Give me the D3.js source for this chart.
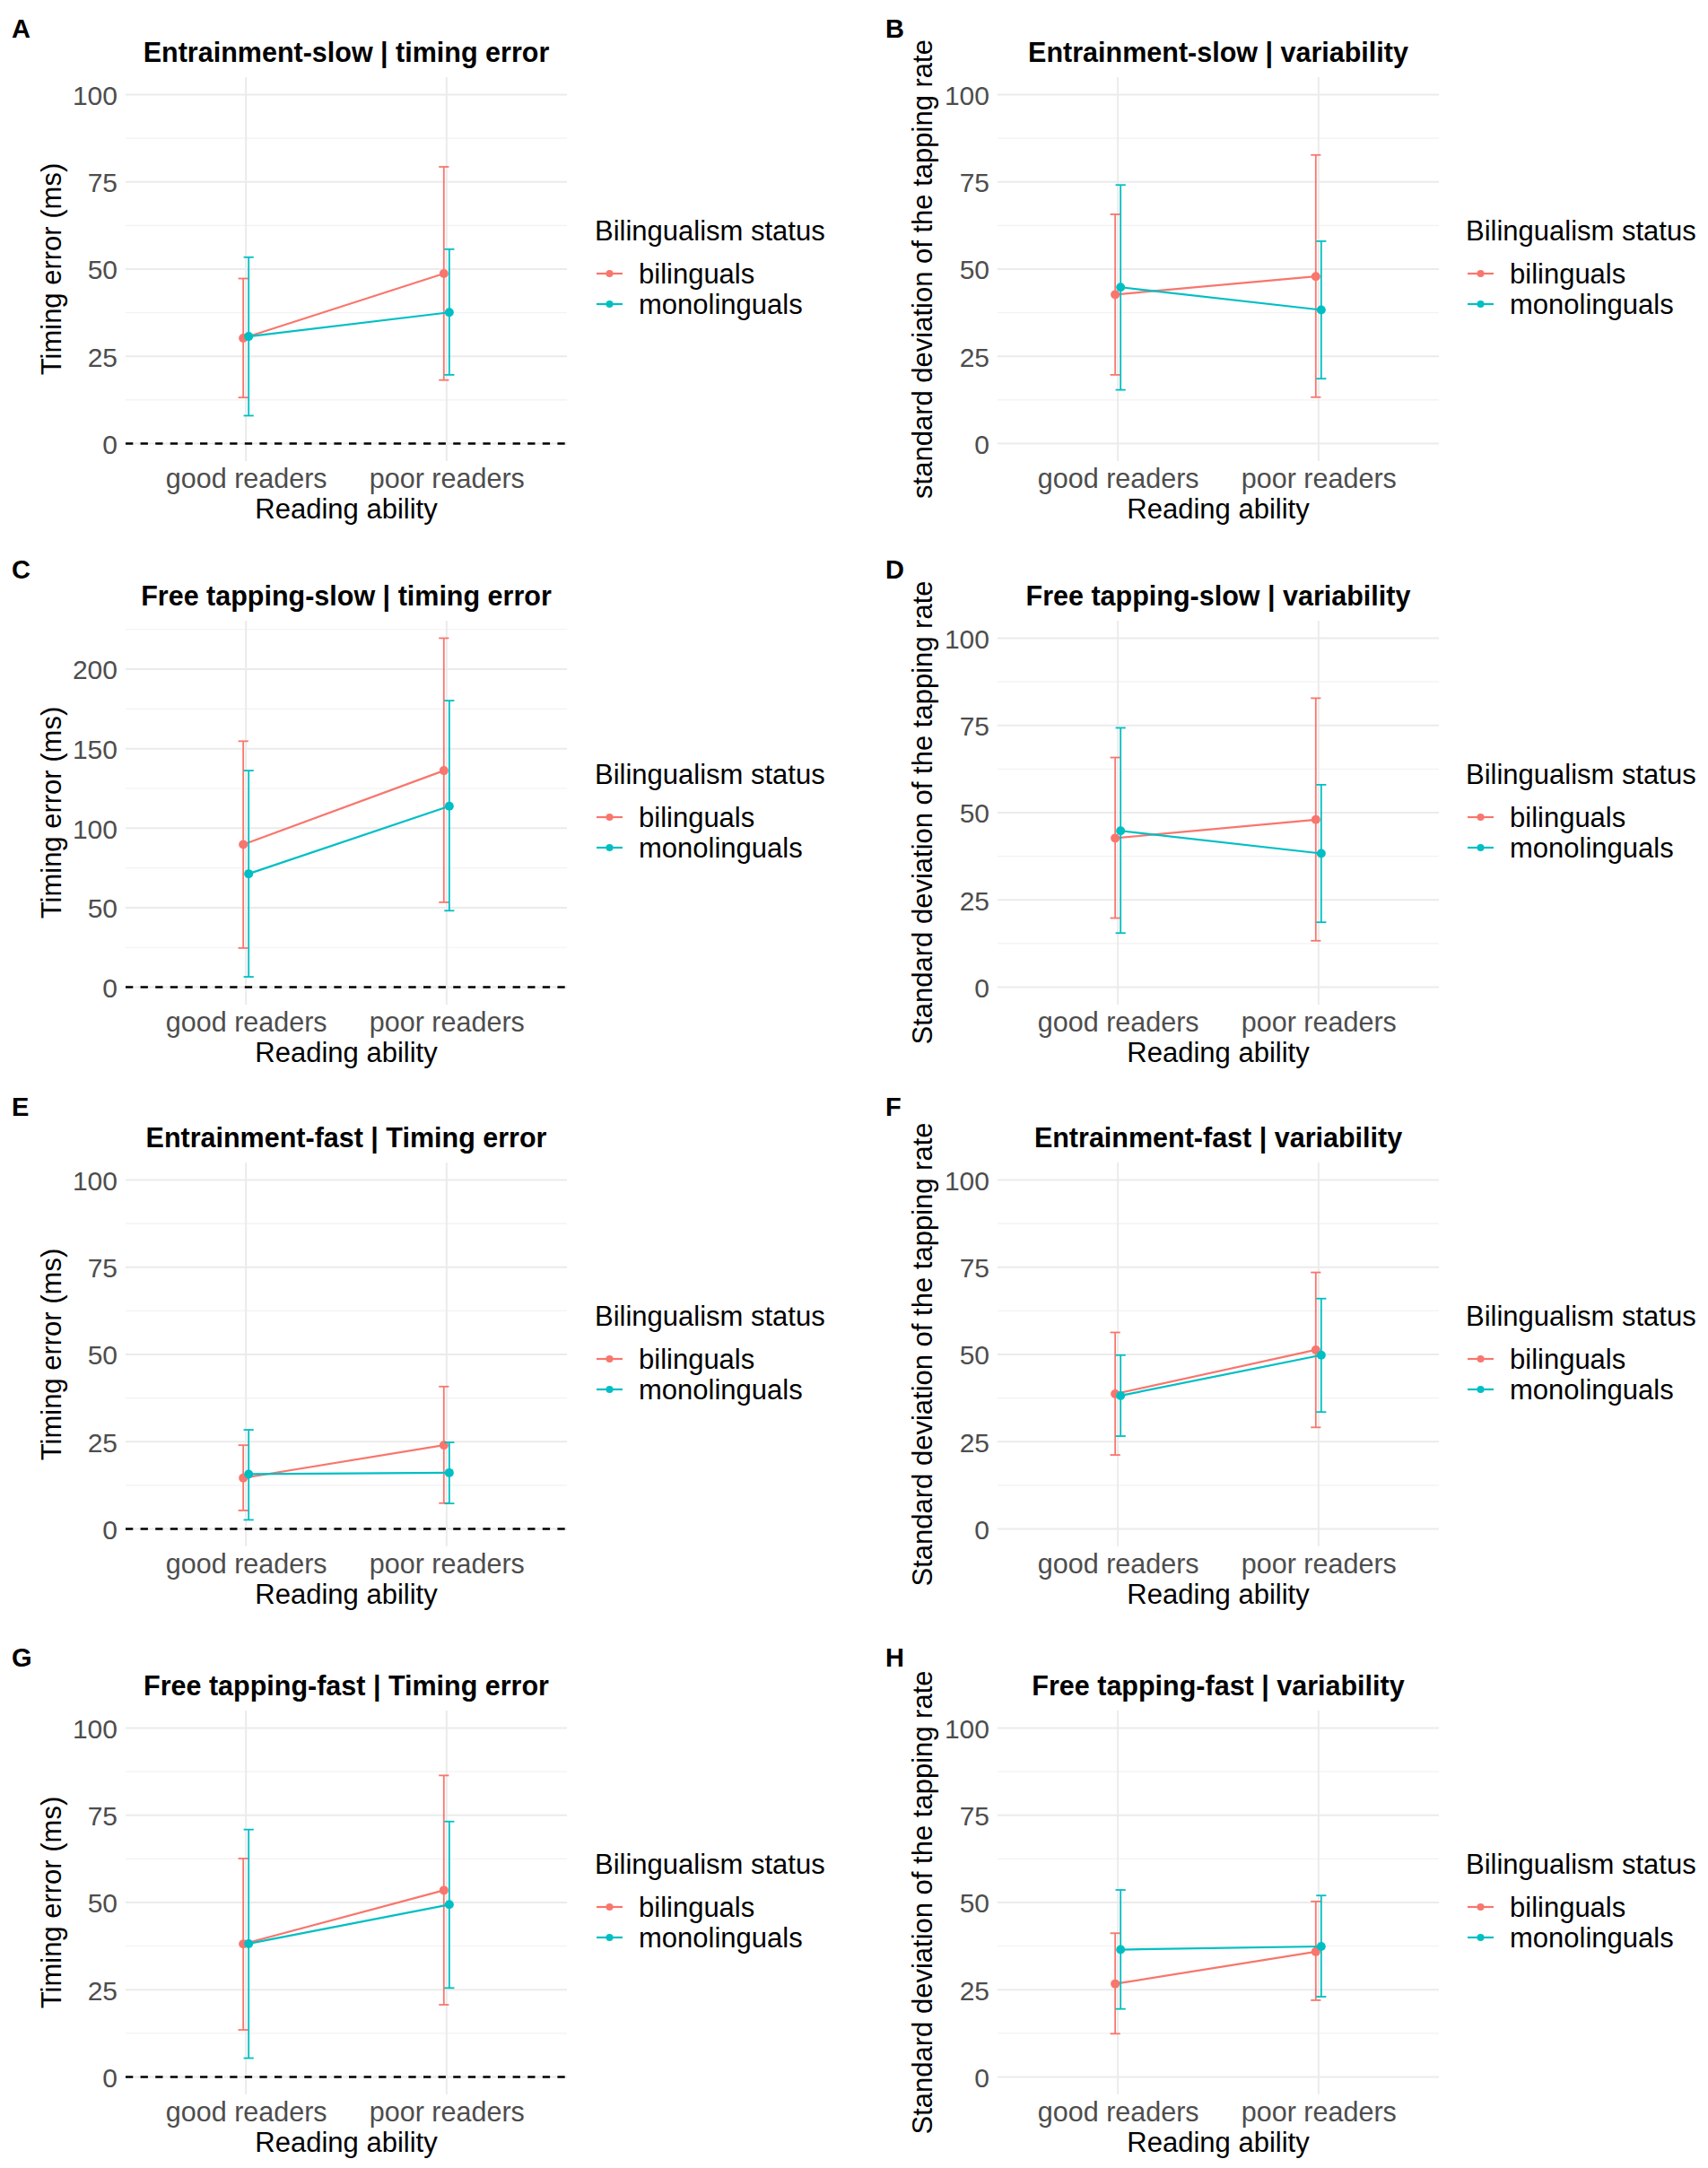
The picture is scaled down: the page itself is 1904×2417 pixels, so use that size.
<!DOCTYPE html>
<html>
<head>
<meta charset="utf-8">
<script src="https://cdn.jsdelivr.net/npm/d3@7"></script>
<style>
  body { margin: 0; background: #fff; }
  svg text { font-family: "Liberation Sans", Arial, sans-serif; }
</style>
</head>
<body>
<div id="chart"></div>
<script>
const readers = ["good readers", "poor readers"];
const groups = ["bilinguals", "monolinguals"];
const groupColors = ["#F8766D", "#00BFC4"];

const panelLetters = ["A", "B", "C", "D", "E", "F", "G", "H"];
const panelTitles = [
  "Entrainment-slow | timing error",
  "Entrainment-slow | variability",
  "Free tapping-slow | timing error",
  "Free tapping-slow | variability",
  "Entrainment-fast | Timing error",
  "Entrainment-fast | variability",
  "Free tapping-fast | Timing error",
  "Free tapping-fast | variability"
];
const yTitles = [
  "Timing error (ms)",
  "standard deviation of the tapping rate",
  "Timing error (ms)",
  "Standard deviation of the tapping rate",
  "Timing error (ms)",
  "Standard deviation of the tapping rate",
  "Timing error (ms)",
  "Standard deviation of the tapping rate"
];

// one row per panel: [good readers, poor readers]
const bilMean = [[30.2, 48.7], [42.7, 47.9], [89.7, 136.2], [42.7, 48.0], [14.6, 24.0], [38.7, 51.3], [38.1, 53.5], [26.7, 35.9]];
const bilLow  = [[13.2, 18.2], [19.7, 13.3], [24.6, 53.4], [19.8, 13.3], [5.3, 7.4], [21.2, 29.1], [13.5, 20.7], [12.4, 22.0]];
const bilHigh = [[47.3, 79.3], [65.7, 82.7], [154.7, 219.5], [65.8, 82.8], [24.0, 40.8], [56.3, 73.5], [62.6, 86.4], [41.2, 50.3]];

const monoMean = [[30.7, 37.6], [44.8, 38.3], [71.3, 113.8], [44.8, 38.3], [15.7, 16.1], [38.2, 49.8], [38.2, 49.4], [36.5, 37.4]];
const monoLow  = [[8.0, 19.7], [15.4, 18.6], [6.5, 48.1], [15.5, 18.6], [2.6, 7.3], [26.6, 33.5], [5.4, 25.5], [19.5, 23.0]];
const monoHigh = [[53.4, 55.7], [74.1, 58.0], [136.2, 180.2], [74.3, 58.0], [28.4, 24.8], [49.8, 66.0], [70.9, 73.2], [53.6, 52.0]];

const ticks100 = [0, 25, 50, 75, 100];
const ticks200 = [0, 50, 100, 150, 200];
const yTicks = [ticks100, ticks100, ticks200, ticks100, ticks100, ticks100, ticks100, ticks100];
const yLimits = [[0, 100], [0, 100], null, [0, 100], [0, 100], [0, 100], [0, 100], [0, 100]];
const zeroLine = [true, false, true, false, true, false, true, false];

// layout
const W = 1904, H = 2417;
const colLeft = [140, 1112];
const rowTop = [86, 692, 1296, 1907];
const labelY = [42, 645, 1244, 1858];
const labelX = [13, 987];
const yTitleX = [57, 1028];
const legendX = [663, 1634];
const panelW = 492, panelH = 428;

const svg = d3.select("#chart")
  .append("svg")
  .attr("width", W)
  .attr("height", H)
  .style("background", "#fff");

panelTitles.forEach((title, i) => {
  const col = i % 2;
  const row = Math.floor(i / 2);
  const left = colLeft[col];
  const top = rowTop[row];
  const bottom = top + panelH;
  const g = svg.append("g");

  const x = d3.scalePoint().domain(readers).range([left, left + panelW]).padding(0.6);

  const series = [
    { name: groups[0], mean: bilMean[i], low: bilLow[i], high: bilHigh[i] },
    { name: groups[1], mean: monoMean[i], low: monoLow[i], high: monoHigh[i] }
  ];

  let lo, hi;
  if (yLimits[i]) {
    [lo, hi] = yLimits[i];
  } else {
    lo = Math.min(0, d3.min(series, (s) => d3.min(s.low)));
    hi = d3.max(series, (s) => d3.max(s.high));
  }
  const pad = (hi - lo) * 0.05;
  const y = d3.scaleLinear().domain([lo - pad, hi + pad]).range([bottom, top]);

  // grid
  const ticks = yTicks[i];
  const step = ticks[1] - ticks[0];
  const minor = d3.range(ticks[0] - step / 2, ticks[ticks.length - 1] + step, step)
    .filter((v) => v > y.domain()[0] && v < y.domain()[1]);

  g.selectAll(".minor")
    .data(minor)
    .enter()
    .append("line")
    .attr("x1", left).attr("x2", left + panelW)
    .attr("y1", (d) => y(d)).attr("y2", (d) => y(d))
    .attr("stroke", "#F2F2F2")
    .attr("stroke-width", 1.1);

  g.selectAll(".major")
    .data(ticks)
    .enter()
    .append("line")
    .attr("x1", left).attr("x2", left + panelW)
    .attr("y1", (d) => y(d)).attr("y2", (d) => y(d))
    .attr("stroke", "#EBEBEB")
    .attr("stroke-width", 2);

  g.selectAll(".vgrid")
    .data(readers)
    .enter()
    .append("line")
    .attr("x1", (d) => x(d)).attr("x2", (d) => x(d))
    .attr("y1", top).attr("y2", bottom)
    .attr("stroke", "#EBEBEB")
    .attr("stroke-width", 2);

  if (zeroLine[i]) {
    g.append("line")
      .attr("x1", left).attr("x2", left + panelW)
      .attr("y1", y(0)).attr("y2", y(0))
      .attr("stroke", "#000")
      .attr("stroke-width", 2.4)
      .attr("stroke-dasharray", "8.3,8.3");
  }

  // axes (labels only)
  const yAxis = g.append("g")
    .attr("transform", `translate(${left - 9},0)`)
    .call(d3.axisLeft(y).tickValues(ticks).tickSize(0).tickPadding(0));
  yAxis.select(".domain").remove();
  yAxis.selectAll("text")
    .attr("font-size", 30)
    .attr("fill", "#4D4D4D")
    .attr("dy", "0.36em")
    .style("font-family", "'Liberation Sans', Arial, sans-serif");

  const xAxis = g.append("g")
    .attr("transform", `translate(0,${bottom + 30})`)
    .call(d3.axisBottom(x).tickSize(0).tickPadding(0));
  xAxis.select(".domain").remove();
  xAxis.selectAll("text")
    .attr("font-size", 30.5)
    .attr("fill", "#4D4D4D")
    .attr("dy", 0)
    .attr("y", 0)
    .style("font-family", "'Liberation Sans', Arial, sans-serif");

  const dodge = 0.027 * x.step();
  const capW = 0.05 * x.step();
  const px = (r, gi) => x(r) + (gi - 0.5) * dodge;

  series.forEach((s, gi) => {
    const color = groupColors[gi];
    const pts = readers.map((r, k) => ({ x: px(r, gi), mean: s.mean[k], low: s.low[k], high: s.high[k] }));

    const eb = g.append("g")
      .attr("stroke", color)
      .attr("stroke-width", 1.8)
      .attr("fill", "none");
    pts.forEach((p) => {
      eb.append("line").attr("x1", p.x).attr("x2", p.x).attr("y1", y(p.low)).attr("y2", y(p.high));
      eb.append("line").attr("x1", p.x - capW / 2).attr("x2", p.x + capW / 2).attr("y1", y(p.low)).attr("y2", y(p.low));
      eb.append("line").attr("x1", p.x - capW / 2).attr("x2", p.x + capW / 2).attr("y1", y(p.high)).attr("y2", y(p.high));
    });

    g.append("path")
      .datum(pts)
      .attr("fill", "none")
      .attr("stroke", color)
      .attr("stroke-width", 2.2)
      .attr("d", d3.line().x((d) => d.x).y((d) => y(d.mean)));

    g.selectAll(null)
      .data(pts)
      .enter()
      .append("circle")
      .attr("cx", (d) => d.x)
      .attr("cy", (d) => y(d.mean))
      .attr("r", 5)
      .attr("fill", color);
  });

  // titles
  g.append("text")
    .attr("x", left + panelW / 2)
    .attr("y", top - 17)
    .attr("text-anchor", "middle")
    .attr("font-size", 30.5)
    .attr("font-weight", "bold")
    .text(title);

  g.append("text")
    .attr("x", labelX[col])
    .attr("y", labelY[row])
    .attr("font-size", 29)
    .attr("font-weight", "bold")
    .text(panelLetters[i]);

  g.append("text")
    .attr("x", left + panelW / 2)
    .attr("y", bottom + 64)
    .attr("text-anchor", "middle")
    .attr("font-size", 31)
    .text("Reading ability");

  g.append("text")
    .attr("transform", `translate(${yTitleX[col]},${top + panelH / 2}) rotate(-90)`)
    .attr("text-anchor", "middle")
    .attr("dy", "0.36em")
    .attr("font-size", 31)
    .text(yTitles[i]);

  // legend
  const cy = top + panelH / 2;
  const lx = legendX[col];
  const legend = g.append("g");
  legend.append("text")
    .attr("x", lx)
    .attr("y", cy - 32)
    .attr("font-size", 31)
    .text("Bilingualism status");

  groups.forEach((name, gi) => {
    const ky = cy + 5 + gi * 34;
    legend.append("line")
      .attr("x1", lx + 2).attr("x2", lx + 31)
      .attr("y1", ky).attr("y2", ky)
      .attr("stroke", groupColors[gi])
      .attr("stroke-width", 2.2);
    legend.append("circle")
      .attr("cx", lx + 16.5)
      .attr("cy", ky)
      .attr("r", 4)
      .attr("fill", groupColors[gi]);
    legend.append("text")
      .attr("x", lx + 49)
      .attr("y", ky + 10.5)
      .attr("font-size", 31)
      .text(name);
  });
});
</script>
</body>
</html>
